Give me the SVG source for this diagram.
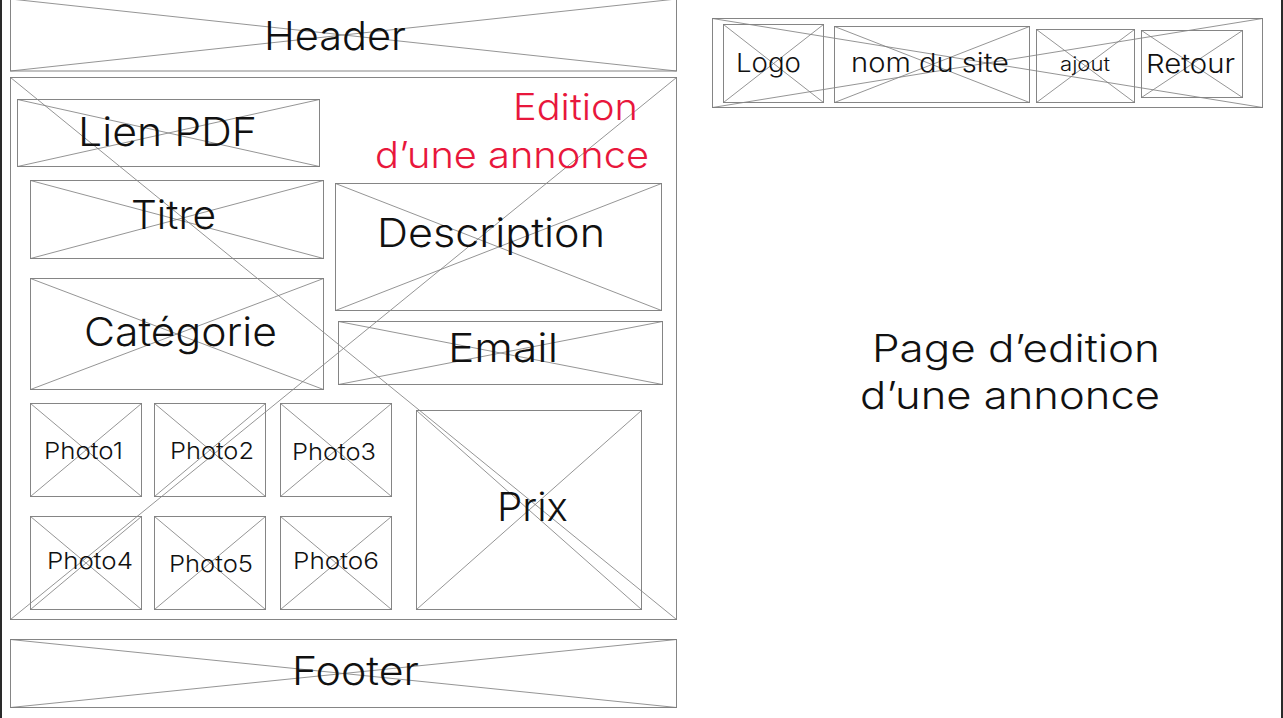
<svg xmlns="http://www.w3.org/2000/svg" width="1283" height="718" viewBox="0 0 1283 718">
<style>
.bx{fill:none;stroke:#858585;stroke-width:1}
.x{stroke:#7a7a7a;stroke-width:0.8;fill:none}
.t{font-family:Inter,"Noto Sans","DejaVu Sans",sans-serif;fill:#111;font-weight:300}
.r{fill:#e8173c}
</style>
<rect x="0" y="0" width="1283" height="718" fill="#ffffff"/>
<rect x="0" y="0" width="2" height="718" fill="#2a2a2a"/>
<rect x="1281" y="0" width="2" height="718" fill="#2a2a2a"/>
<g id="header">
<rect class="bx" x="10.5" y="-1" width="666" height="72"/>
<path class="x" d="M10.5,-1 L676.5,71 M676.5,-1 L10.5,71"/>
<text class="t" x="264" y="50" font-size="40" textLength="142" lengthAdjust="spacingAndGlyphs">Header</text>
</g>
<g id="main">
<rect class="bx" x="10.5" y="77.5" width="666" height="542"/>
<path class="x" d="M10.5,77.5 L676.5,619.5 M676.5,77.5 L10.5,619.5"/>
<text class="t r" x="513" y="120" font-size="37" textLength="125" lengthAdjust="spacingAndGlyphs">Edition</text>
<text class="t r" x="375" y="168" font-size="37" textLength="274" lengthAdjust="spacingAndGlyphs">d’une annonce</text>
</g>
<g id="lien-pdf">
<rect class="bx" x="17.5" y="99.5" width="302" height="67"/>
<path class="x" d="M17.5,99.5 L319.5,166.5 M319.5,99.5 L17.5,166.5"/>
<text class="t" x="78" y="146" font-size="40" textLength="179" lengthAdjust="spacingAndGlyphs">Lien PDF</text>
</g>
<g id="titre">
<rect class="bx" x="30.5" y="180.5" width="293" height="78"/>
<path class="x" d="M30.5,180.5 L323.5,258.5 M323.5,180.5 L30.5,258.5"/>
<text class="t" x="131" y="229" font-size="40" textLength="85" lengthAdjust="spacingAndGlyphs">Titre</text>
</g>
<g id="categorie">
<rect class="bx" x="30.5" y="278.5" width="293" height="111"/>
<path class="x" d="M30.5,278.5 L323.5,389.5 M323.5,278.5 L30.5,389.5"/>
<text class="t" x="84" y="346" font-size="40" textLength="193" lengthAdjust="spacingAndGlyphs">Catégorie</text>
</g>
<g id="description">
<rect class="bx" x="335.5" y="183.5" width="326" height="127"/>
<path class="x" d="M335.5,183.5 L661.5,310.5 M661.5,183.5 L335.5,310.5"/>
<text class="t" x="377" y="247" font-size="40" textLength="228" lengthAdjust="spacingAndGlyphs">Description</text>
</g>
<g id="email">
<rect class="bx" x="338.5" y="321.5" width="324" height="63"/>
<path class="x" d="M338.5,321.5 L662.5,384.5 M662.5,321.5 L338.5,384.5"/>
<text class="t" x="448" y="362" font-size="40" textLength="110" lengthAdjust="spacingAndGlyphs">Email</text>
</g>
<g id="photo1">
<rect class="bx" x="30.5" y="403.5" width="111" height="93"/>
<path class="x" d="M30.5,403.5 L141.5,496.5 M141.5,403.5 L30.5,496.5"/>
<text class="t" x="44" y="459" font-size="23" textLength="79" lengthAdjust="spacingAndGlyphs">Photo1</text>
</g>
<g id="photo2">
<rect class="bx" x="154.5" y="403.5" width="111" height="93"/>
<path class="x" d="M154.5,403.5 L265.5,496.5 M265.5,403.5 L154.5,496.5"/>
<text class="t" x="170" y="459" font-size="23" textLength="84" lengthAdjust="spacingAndGlyphs">Photo2</text>
</g>
<g id="photo3">
<rect class="bx" x="280.5" y="403.5" width="111" height="93"/>
<path class="x" d="M280.5,403.5 L391.5,496.5 M391.5,403.5 L280.5,496.5"/>
<text class="t" x="292" y="460" font-size="23" textLength="84" lengthAdjust="spacingAndGlyphs">Photo3</text>
</g>
<g id="photo4">
<rect class="bx" x="30.5" y="516.5" width="111" height="93"/>
<path class="x" d="M30.5,516.5 L141.5,609.5 M141.5,516.5 L30.5,609.5"/>
<text class="t" x="47" y="569" font-size="23" textLength="86" lengthAdjust="spacingAndGlyphs">Photo4</text>
</g>
<g id="photo5">
<rect class="bx" x="154.5" y="516.5" width="111" height="93"/>
<path class="x" d="M154.5,516.5 L265.5,609.5 M265.5,516.5 L154.5,609.5"/>
<text class="t" x="169" y="572" font-size="23" textLength="84" lengthAdjust="spacingAndGlyphs">Photo5</text>
</g>
<g id="photo6">
<rect class="bx" x="280.5" y="516.5" width="111" height="93"/>
<path class="x" d="M280.5,516.5 L391.5,609.5 M391.5,516.5 L280.5,609.5"/>
<text class="t" x="293" y="569" font-size="23" textLength="86" lengthAdjust="spacingAndGlyphs">Photo6</text>
</g>
<g id="prix">
<rect class="bx" x="416.5" y="410.5" width="225" height="199"/>
<path class="x" d="M416.5,410.5 L641.5,609.5 M641.5,410.5 L416.5,609.5"/>
<text class="t" x="497" y="521" font-size="39" textLength="71" lengthAdjust="spacingAndGlyphs">Prix</text>
</g>
<g id="footer">
<rect class="bx" x="10.5" y="639.5" width="666" height="68"/>
<path class="x" d="M10.5,639.5 L676.5,707.5 M676.5,639.5 L10.5,707.5"/>
<text class="t" x="292" y="685" font-size="40" textLength="127" lengthAdjust="spacingAndGlyphs">Footer</text>
</g>
<g id="nav">
<rect class="bx" x="712.5" y="18.5" width="550" height="89"/>
<path class="x" d="M712.5,18.5 L1262.5,107.5 M1262.5,18.5 L712.5,107.5"/>
</g>
<g id="logo">
<rect class="bx" x="723.5" y="24.5" width="100" height="78"/>
<path class="x" d="M723.5,24.5 L823.5,102.5 M823.5,24.5 L723.5,102.5"/>
<text class="t" x="736" y="72" font-size="26" textLength="65" lengthAdjust="spacingAndGlyphs">Logo</text>
</g>
<g id="nom-du-site">
<rect class="bx" x="834.5" y="26.5" width="195" height="76"/>
<path class="x" d="M834.5,26.5 L1029.5,102.5 M1029.5,26.5 L834.5,102.5"/>
<text class="t" x="851" y="72" font-size="26" textLength="158" lengthAdjust="spacingAndGlyphs">nom du site</text>
</g>
<g id="ajout">
<rect class="bx" x="1036.5" y="29.5" width="98" height="73"/>
<path class="x" d="M1036.5,29.5 L1134.5,102.5 M1134.5,29.5 L1036.5,102.5"/>
<text class="t" x="1060" y="71" font-size="19" textLength="50" lengthAdjust="spacingAndGlyphs">ajout</text>
</g>
<g id="retour">
<rect class="bx" x="1141.5" y="30.5" width="101" height="67"/>
<path class="x" d="M1141.5,30.5 L1242.5,97.5 M1242.5,30.5 L1141.5,97.5"/>
<text class="t" x="1146" y="73" font-size="26" textLength="89" lengthAdjust="spacingAndGlyphs">Retour</text>
</g>
<g id="page-title">
<text class="t" x="872" y="362" font-size="38" textLength="288" lengthAdjust="spacingAndGlyphs">Page d’edition</text>
<text class="t" x="860" y="409" font-size="38" textLength="300" lengthAdjust="spacingAndGlyphs">d’une annonce</text>
</g>
</svg>
